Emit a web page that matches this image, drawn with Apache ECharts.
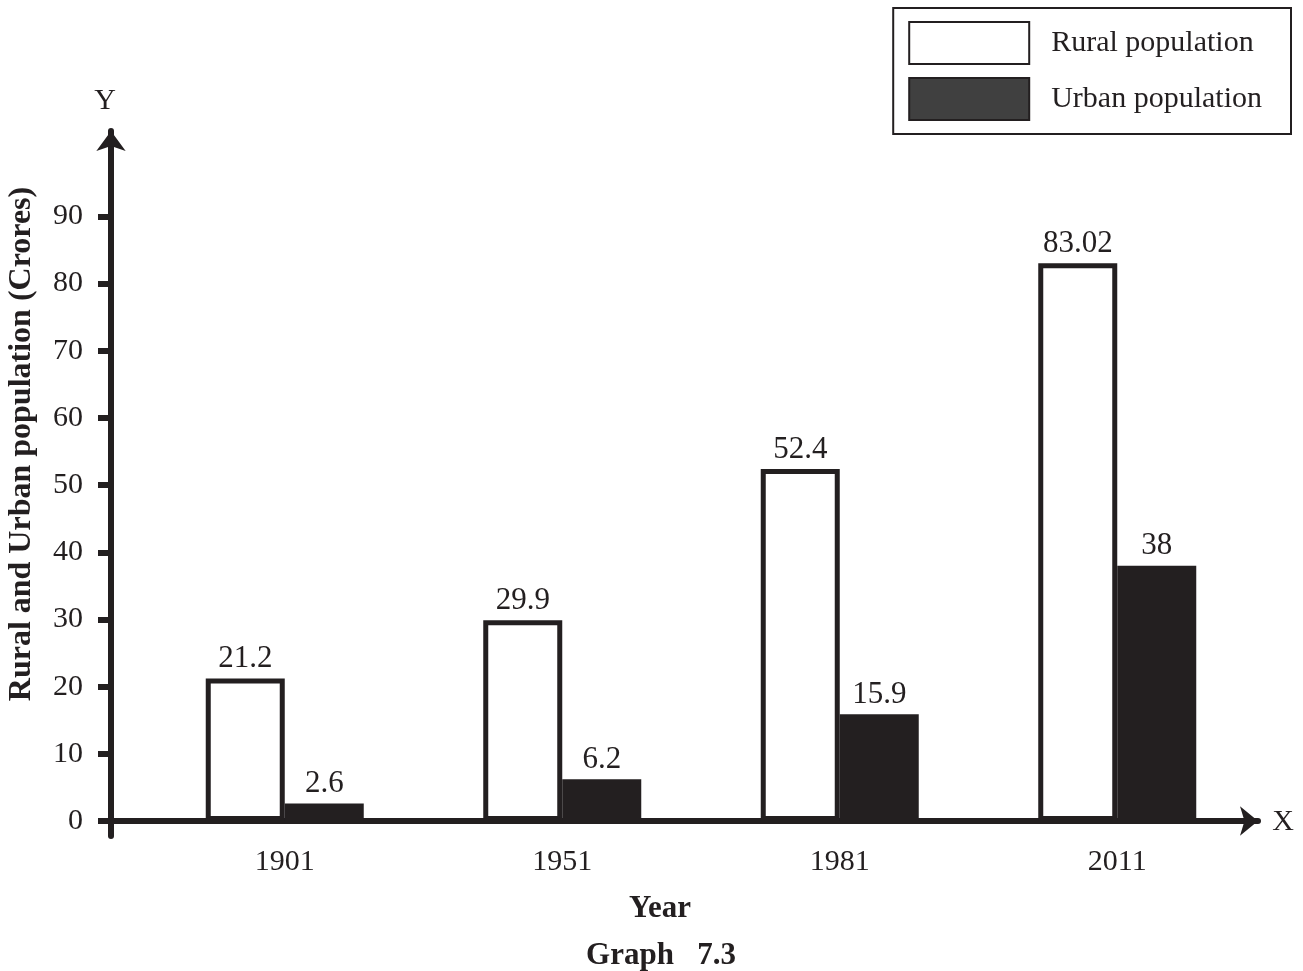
<!DOCTYPE html>
<html>
<head>
<meta charset="utf-8">
<script src="https://cdn.jsdelivr.net/npm/echarts@6/dist/echarts.min.js"></script>
<style>html,body{margin:0;padding:0;background:#fff;}#chart{width:1303px;height:971px;}</style>
</head>
<body>
<div id="chart"></div>
<script>
const categories = ['1901', '1951', '1981', '2011'];
const ruralPopulation = [21.2, 29.9, 52.4, 83.02];
const urbanPopulation = [2.6, 6.2, 15.9, 38];
const yTickValues = [0, 10, 20, 30, 40, 50, 60, 70, 80, 90];

const INK = '#231f20';
const FONT = '"Liberation Serif", "Times New Roman", serif';
const Y_MIN = -2.23, Y_MAX = 102.7;

const chart = echarts.init(document.getElementById('chart'), null, {renderer: 'canvas'});
chart.setOption({
  animation: false,
  backgroundColor: '#fff',
  textStyle: {fontFamily: FONT, color: INK},
  grid: [
    {left: 146, right: 47, top: 131, bottom: 135},
    {left: 111, right: 45, top: 131, bottom: 135}
  ],
  legend: {
    right: 12, top: 8,
    orient: 'vertical',
    icon: 'rect',
    itemWidth: 120, itemHeight: 42, itemGap: 12,
    padding: [13, 29, 13, 15],
    borderColor: INK, borderWidth: 2,
    textStyle: {fontFamily: FONT, fontSize: 30, color: INK, padding: [0, 0, 0, 17]},
    data: [
      {name: 'Rural population', itemStyle: {color: '#ffffff', borderColor: INK, borderWidth: 2}},
      {name: 'Urban population', itemStyle: {color: '#404040', borderColor: INK, borderWidth: 2}}
    ]
  },
  xAxis: [
    {
      type: 'category', gridIndex: 0, data: categories,
      axisLine: {show: false}, axisTick: {show: false},
      axisLabel: {fontFamily: FONT, fontSize: 30, color: INK, margin: 11},
      splitLine: {show: false}
    },
    {
      type: 'value', gridIndex: 1, min: 0, max: 1,
      axisLine: {show: true, onZero: true, symbol: ['none', 'arrow'], symbolSize: [22, 18],
                 lineStyle: {color: INK, width: 6}},
      axisTick: {show: false}, axisLabel: {show: false}, splitLine: {show: false}
    }
  ],
  yAxis: [
    {type: 'value', gridIndex: 0, min: Y_MIN, max: Y_MAX, show: false, splitLine: {show: false}},
    {
      type: 'value', gridIndex: 1, min: Y_MIN, max: Y_MAX,
      axisLine: {show: true, onZero: false, symbol: ['none', 'arrow'], symbolSize: [22, 20],
                 lineStyle: {color: INK, width: 6}},
      axisTick: {show: true, customValues: yTickValues, length: 13, lineStyle: {color: INK, width: 6}},
      axisLabel: {show: true, customValues: yTickValues, margin: 28, fontFamily: FONT, fontSize: 30, color: INK},
      splitLine: {show: false}
    }
  ],
  series: [
    {
      name: 'Rural population', type: 'bar', xAxisIndex: 0, yAxisIndex: 0,
      data: ruralPopulation, barWidth: 79, barGap: '0%',
      itemStyle: {color: '#ffffff', borderColor: INK, borderWidth: 5},
      label: {show: true, position: 'top', distance: 4, fontFamily: FONT, fontSize: 31, color: INK}
    },
    {
      name: 'Urban population', type: 'bar', xAxisIndex: 0, yAxisIndex: 0,
      data: urbanPopulation, barWidth: 79, barGap: '0%',
      itemStyle: {color: INK},
      label: {show: true, position: 'top', distance: 4, fontFamily: FONT, fontSize: 31, color: INK}
    }
  ],
  graphic: [
    {type: 'text', x: 22, y: 444, rotation: Math.PI / 2,
     style: {text: 'Rural and Urban population (Crores)', font: 'bold 32px ' + FONT, fill: INK,
             textAlign: 'center', textVerticalAlign: 'middle'}},
    {type: 'text', x: 105, y: 101,
     style: {text: 'Y', font: '30px ' + FONT, fill: INK, textAlign: 'center', textVerticalAlign: 'middle'}},
    {type: 'text', x: 1283, y: 822,
     style: {text: 'X', font: '30px ' + FONT, fill: INK, textAlign: 'center', textVerticalAlign: 'middle'}},
    {type: 'text', x: 660, y: 909,
     style: {text: 'Year', font: 'bold 31px ' + FONT, fill: INK, textAlign: 'center', textVerticalAlign: 'middle'}},
    {type: 'text', x: 661, y: 956,
     style: {text: 'Graph   7.3', font: 'bold 31px ' + FONT, fill: INK, textAlign: 'center', textVerticalAlign: 'middle'}}
  ]
});
</script>
</body>
</html>
